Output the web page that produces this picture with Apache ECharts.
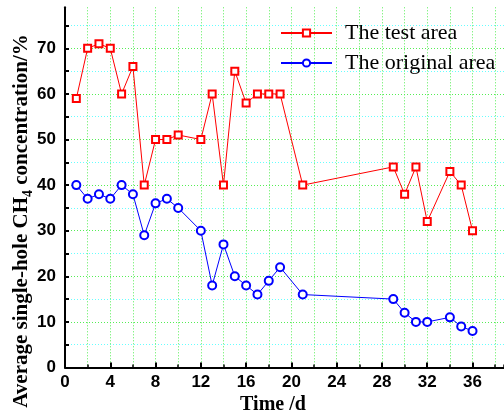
<!DOCTYPE html>
<html>
<head>
<meta charset="utf-8">
<script src="https://cdn.jsdelivr.net/npm/echarts@6/dist/echarts.min.js"></script>
<style>html,body{margin:0;padding:0;background:#fff}#c{width:504px;height:414px}</style>
</head>
<body>
<div id="c"></div>
<script>
// Data
const days = [1,2,3,4,5,6,7,8,9,10,12,13,14,15,16,17,18,19,21,29,30,31,32,34,35,36];
const testArea = [59,70,71,70,60,66,40,50,50,51,50,60,40,65,58,60,60,60,40,44,38,44,32,43,40,30];
const originalArea = [40,37,38,37,40,38,29,36,37,35,30,18,27,20,18,16,19,22,16,15,12,10,10,11,9,8];
const seriesNames = ['The test area', 'The original area'];
const xTicks = [0,4,8,12,16,20,24,28,32,36];
const yTicks = [0,10,20,30,40,50,60,70];
const X_MAX = 38.78; // visible right end of the (clipped) time axis
const Y_MAX = 79;

const toPairs = (xs, ys) => xs.map((x, i) => [x, ys[i]]);

const GREEN = '#55ee55';
const CYAN = '#66ffff';

const chart = echarts.init(document.getElementById('c'));
chart.setOption({
  animation: false,
  backgroundColor: '#fff',
  grid: { left: 65, right: 0, top: 7.3, bottom: 46.5, containLabel: false },
  xAxis: [
    {
      type: 'value', min: 0, max: X_MAX, interval: 4, position: 'bottom',
      axisLine: { show: true, onZero: false, lineStyle: { color: '#000', width: 2 } },
      axisTick: { show: true, inside: true, length: 5, lineStyle: { color: '#000', width: 2 } },
      axisLabel: {
        margin: 6, color: '#000', fontSize: 17, fontWeight: 'bold', fontFamily: 'Liberation Sans',
        showMaxLabel: false,
        formatter: v => xTicks.includes(v) ? String(v) : ''
      },
      splitLine: { show: false }
    },
    {
      type: 'value', min: 0, max: X_MAX, interval: 2, position: 'bottom',
      axisLine: { show: false, onZero: false },
      axisTick: { show: true, inside: true, length: 3, lineStyle: { color: '#000', width: 1.5 } },
      axisLabel: { show: false },
      splitLine: { show: true, showMinLine: false, showMaxLine: false, lineStyle: { color: GREEN, width: 1, type: [1, 2] } }
    }
  ],
  yAxis: {
    type: 'value', min: 0, max: Y_MAX, interval: 5,
    axisLine: { show: true, onZero: false, lineStyle: { color: '#000', width: 2 } },
    axisTick: { show: true, inside: true, length: 4, lineStyle: { color: '#000', width: 2 } },
    axisLabel: {
      margin: 9, color: '#000', fontSize: 17, fontWeight: 'bold', fontFamily: 'Liberation Sans',
      showMaxLabel: false,
      formatter: v => yTicks.includes(v) ? String(v) : ''
    },
    splitLine: { show: true, showMaxLine: false, lineStyle: { color: [GREEN, CYAN], width: 1, type: [1, 2] } }
  },
  legend: {
    orient: 'vertical', left: 280, top: 22, padding: 0, itemGap: 8,
    itemWidth: 51, itemHeight: 9,
    data: seriesNames,
    textStyle: { fontFamily: 'Liberation Serif', fontSize: 22, color: '#000', padding: [0, 0, 0, 8] }
  },
  graphic: [
    {
      type: 'text', x: 22, y: 221, rotation: Math.PI / 2,
      style: {
        text: '{n|Average single-hole CH}{s|4}{n| concentration/%}',
        align: 'center', verticalAlign: 'middle',
        rich: {
          n: { fontFamily: 'Liberation Serif', fontWeight: 'bold', fontSize: 21, lineHeight: 21, verticalAlign: 'top', fill: '#000' },
          s: { fontFamily: 'Liberation Serif', fontWeight: 'bold', fontSize: 14, lineHeight: 14, padding: [10, 0, 0, 0], verticalAlign: 'top', fill: '#000' }
        }
      }
    },
    {
      type: 'text', x: 273, y: 405,
      style: {
        text: 'Time /d', align: 'center', verticalAlign: 'middle',
        font: 'bold 20px "Liberation Serif"', fill: '#000'
      }
    }
  ],
  series: [
    {
      name: seriesNames[0], type: 'line', data: toPairs(days, testArea),
      xAxisIndex: 0, symbol: 'emptyRect', symbolSize: 7,
      lineStyle: { color: '#ff0000', width: 1 },
      itemStyle: { color: '#ff0000', borderWidth: 1 }
    },
    {
      name: seriesNames[1], type: 'line', data: toPairs(days, originalArea),
      xAxisIndex: 0, symbol: 'emptyCircle', symbolSize: 8,
      lineStyle: { color: '#0000ff', width: 1 },
      itemStyle: { color: '#0000ff', borderWidth: 1 }
    }
  ]
});
</script>
</body>
</html>
